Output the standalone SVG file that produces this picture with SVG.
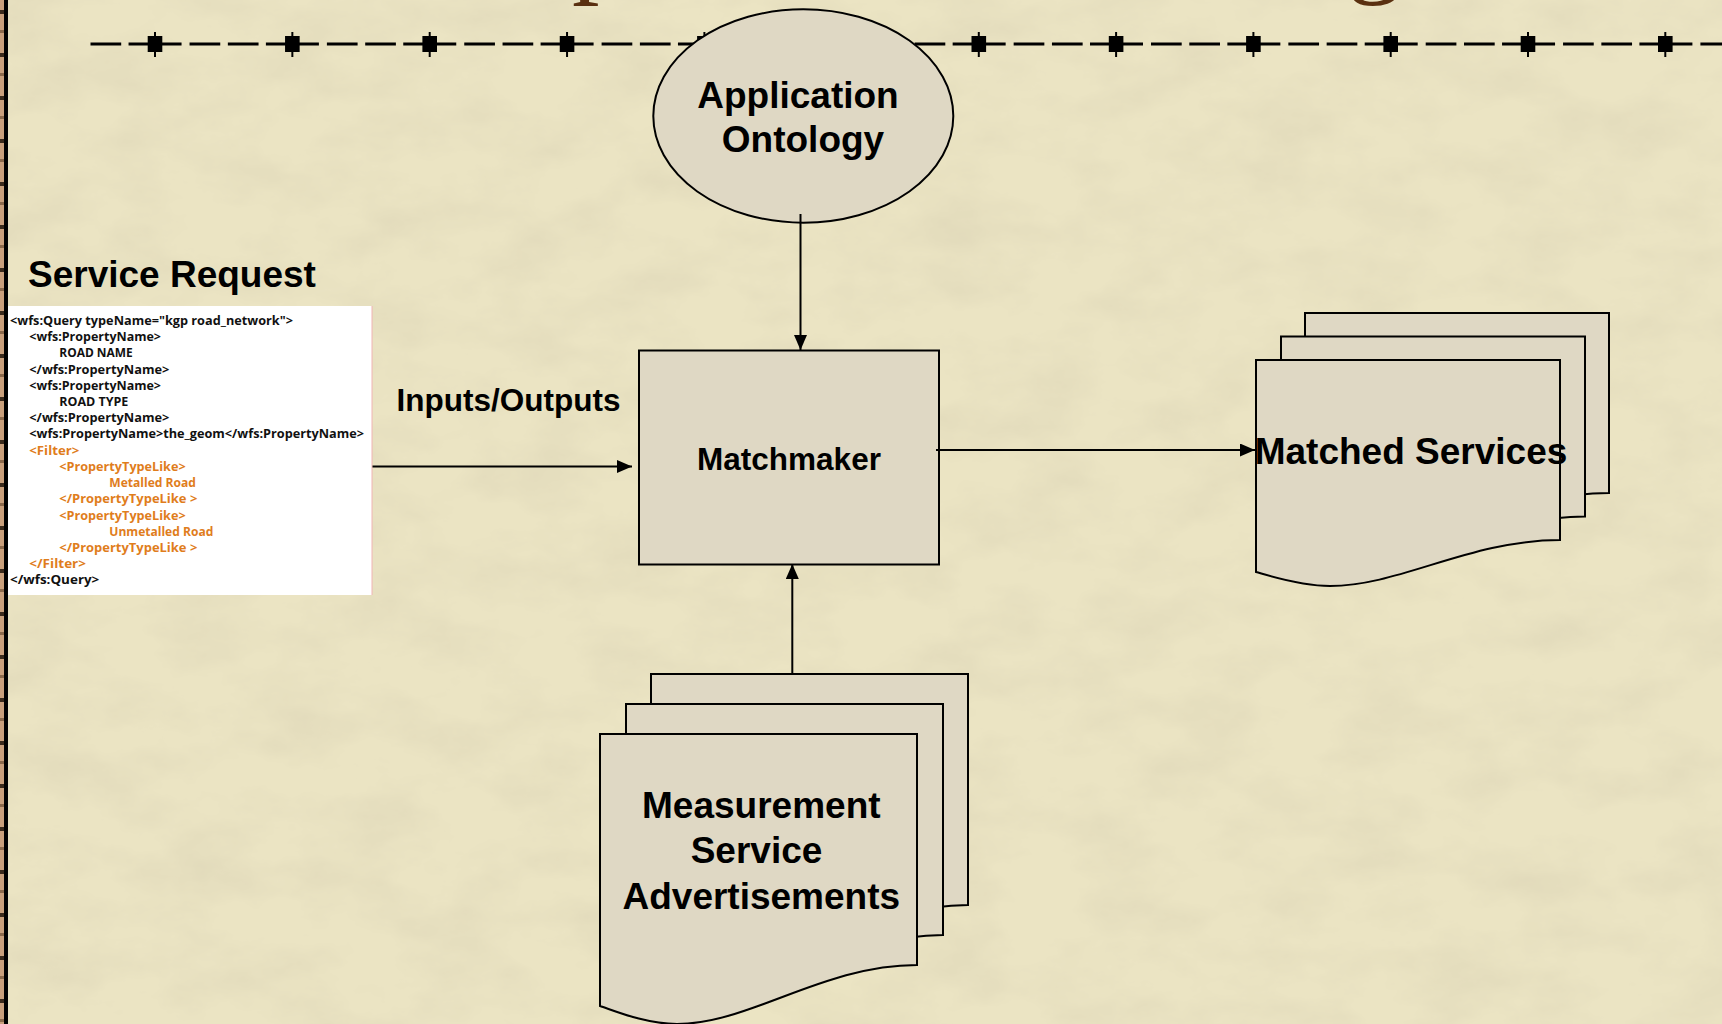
<svg xmlns="http://www.w3.org/2000/svg" width="1722" height="1024" viewBox="0 0 1722 1024">
  <defs>
    <style>
      .shape { fill: #dfd8c4; stroke: #000; stroke-width: 2; }
      .label { font-family: "Liberation Sans", Arial, sans-serif; font-weight: bold; fill: #000; }
      .big { font-size: 37px; }
      .mid { font-size: 31.5px; }
      .code { font-family: "Open Sans", "Noto Sans", "DejaVu Sans", sans-serif; font-weight: bold; font-size: 13px; fill: #111; }
      .code.tag { fill: #e07d1c; }
      .conn { fill: none; stroke: #000; stroke-width: 2; }
      .rule { fill: none; stroke: #000; stroke-width: 3; stroke-dasharray: 30.7 7.35 53 8 30.7 7.6; }
      .title { font-family: "Liberation Serif", "Times New Roman", serif; font-size: 110px; fill: #5a3010; }
    </style>
    <marker id="arrow" markerUnits="userSpaceOnUse" markerWidth="16" markerHeight="14" refX="15" refY="6.5" orient="auto">
      <path d="M0,0 L15,6.5 L0,13 Z" fill="#000"/>
    </marker>
    <!-- knob on the header rule -->
    <g id="knob">
      <line x1="0" y1="32" x2="0" y2="57" stroke="#000" stroke-width="2"/>
      <rect x="-7.3" y="36" width="14.6" height="16" fill="#000"/>
    </g>
    <!-- document page, small stack -->
    <path id="pageS" d="M0,0 H304 V180 C214,180 144,226 74,226 C44,226 14,216 0,212 Z"/>
    <!-- document page, large stack -->
    <path id="pageL" d="M0,0 H317 V231 C223,231 150,290 77,290 C46,290 15,277 0,272 Z"/>
    <pattern id="edge" patternUnits="userSpaceOnUse" width="4" height="43">
      <rect width="4" height="43" fill="#c9a07c"/>
      <rect y="10" width="4" height="4" fill="#3a2a1c"/>
      <rect y="30" width="4" height="3" fill="#8c6a4c"/>
    </pattern>
    <filter id="grain" filterUnits="userSpaceOnUse" x="0" y="0" width="1722" height="1024">
      <feTurbulence type="fractalNoise" baseFrequency="0.012 0.02" numOctaves="5" seed="11" result="n"/>
      <feColorMatrix in="n" type="matrix" values="0 0 0 0 0.55  0 0 0 0 0.50  0 0 0 0 0.36  0.4 0 0 0 -0.15"/>
    </filter>
  </defs>

  <!-- paper background -->
  <g id="background">
    <rect width="1722" height="1024" fill="#ebe4c3"/>
    <rect width="1722" height="1024" fill="#000" filter="url(#grain)"/>
    <rect x="0" y="0" width="4" height="1024" fill="url(#edge)"/>
    <rect x="4" y="0" width="4" height="1024" fill="#000"/>
  </g>

  <!-- descenders of the slide title, cut by the top edge -->
  <g id="title">
    <text class="title" x="572" y="-17">p</text>
    <text class="title" x="1347" y="-17">g</text>
  </g>

  <!-- dashed header rule with knobs -->
  <g id="header-rule">
    <path class="rule" d="M90.5,44 H1722"/>
    <use href="#knob" x="155"/>
    <use href="#knob" x="292.35"/>
    <use href="#knob" x="429.7"/>
    <use href="#knob" x="567.05"/>
    <use href="#knob" x="704.4"/>
    <use href="#knob" x="978.8"/>
    <use href="#knob" x="1116.1"/>
    <use href="#knob" x="1253.4"/>
    <use href="#knob" x="1390.7"/>
    <use href="#knob" x="1528"/>
    <use href="#knob" x="1665.3"/>
  </g>

  <g id="node-ontology">
    <ellipse class="shape" cx="803.3" cy="116" rx="150" ry="106.7"/>
    <text class="label big" x="798" y="108" text-anchor="middle">Application</text>
    <text class="label big" x="803" y="152" text-anchor="middle">Ontology</text>
  </g>

  <g id="node-service-request">
    <text class="label big" x="28" y="287">Service Request</text>
    <rect x="8" y="306" width="364" height="289" fill="#fff"/>
    <line x1="372" y1="306" x2="372" y2="595" stroke="#f0b4b4" stroke-width="1"/>
    <text class="code" x="10" y="325" textLength="283" lengthAdjust="spacingAndGlyphs">&lt;wfs:Query typeName="kgp road_network"&gt;</text>
    <text class="code" x="29.3" y="341" textLength="131.7" lengthAdjust="spacingAndGlyphs">&lt;wfs:PropertyName&gt;</text>
    <text class="code" x="59.3" y="357.3" textLength="73.4" lengthAdjust="spacingAndGlyphs">ROAD NAME</text>
    <text class="code" x="29.3" y="373.5" textLength="140" lengthAdjust="spacingAndGlyphs">&lt;/wfs:PropertyName&gt;</text>
    <text class="code" x="29.3" y="389.7" textLength="131.7" lengthAdjust="spacingAndGlyphs">&lt;wfs:PropertyName&gt;</text>
    <text class="code" x="59.3" y="406" textLength="69" lengthAdjust="spacingAndGlyphs">ROAD TYPE</text>
    <text class="code" x="29.3" y="422" textLength="140" lengthAdjust="spacingAndGlyphs">&lt;/wfs:PropertyName&gt;</text>
    <text class="code" x="29.3" y="438.3" textLength="334.7" lengthAdjust="spacingAndGlyphs">&lt;wfs:PropertyName&gt;the_geom&lt;/wfs:PropertyName&gt;</text>
    <text class="code tag" x="29.3" y="454.6" textLength="50" lengthAdjust="spacingAndGlyphs">&lt;Filter&gt;</text>
    <text class="code tag" x="59.3" y="470.8" textLength="126.4" lengthAdjust="spacingAndGlyphs">&lt;PropertyTypeLike&gt;</text>
    <text class="code tag" x="109.3" y="487" textLength="86.7" lengthAdjust="spacingAndGlyphs">Metalled Road</text>
    <text class="code tag" x="59.3" y="503.3" textLength="138" lengthAdjust="spacingAndGlyphs">&lt;/PropertyTypeLike &gt;</text>
    <text class="code tag" x="59.3" y="519.5" textLength="126.4" lengthAdjust="spacingAndGlyphs">&lt;PropertyTypeLike&gt;</text>
    <text class="code tag" x="109.3" y="535.7" textLength="104" lengthAdjust="spacingAndGlyphs">Unmetalled Road</text>
    <text class="code tag" x="59.3" y="551.9" textLength="138" lengthAdjust="spacingAndGlyphs">&lt;/PropertyTypeLike &gt;</text>
    <text class="code tag" x="29.3" y="568.2" textLength="56.7" lengthAdjust="spacingAndGlyphs">&lt;/Filter&gt;</text>
    <text class="code" x="10" y="584.4" textLength="89.3" lengthAdjust="spacingAndGlyphs">&lt;/wfs:Query&gt;</text>
  </g>

  <g id="node-matchmaker">
    <rect class="shape" x="639" y="350.5" width="300" height="214"/>
    <text class="label mid" x="789" y="469.5" text-anchor="middle">Matchmaker</text>
  </g>

  <g id="node-matched-services">
    <use href="#pageS" class="shape" x="1305" y="313"/>
    <use href="#pageS" class="shape" x="1281" y="336.5"/>
    <use href="#pageS" class="shape" x="1256" y="360"/>
    <text class="label big" x="1411" y="463.5" text-anchor="middle">Matched Services</text>
  </g>

  <g id="node-advertisements">
    <use href="#pageL" class="shape" x="651" y="674"/>
    <use href="#pageL" class="shape" x="626" y="704"/>
    <use href="#pageL" class="shape" x="600" y="734"/>
    <text class="label big" x="761.3" y="817.5" text-anchor="middle">Measurement</text>
    <text class="label big" x="756.5" y="863" text-anchor="middle">Service</text>
    <text class="label big" x="761.3" y="908.5" text-anchor="middle">Advertisements</text>
  </g>

  <g id="connectors">
    <path class="conn" d="M800.5,214 V350" marker-end="url(#arrow)"/>
    <path class="conn" d="M372.5,466.5 H632" marker-end="url(#arrow)"/>
    <path class="conn" d="M936,450 H1255" marker-end="url(#arrow)"/>
    <path class="conn" d="M792.3,674 V564" marker-end="url(#arrow)"/>
    <text class="label mid" x="396.5" y="411">Inputs/Outputs</text>
  </g>
</svg>
